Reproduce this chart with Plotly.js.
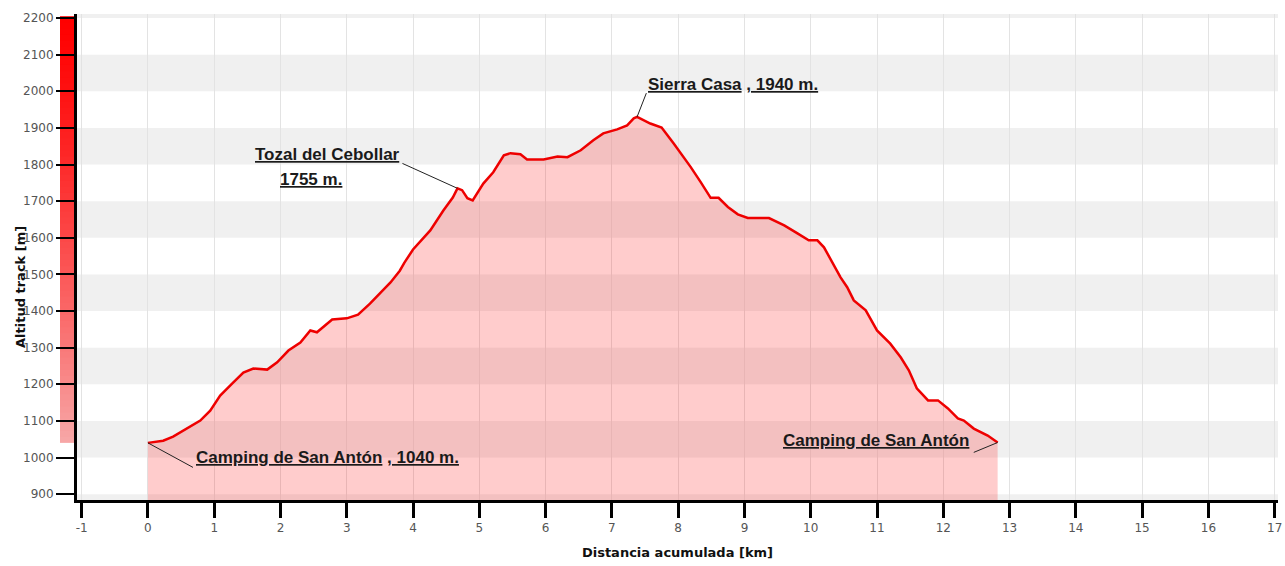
<!DOCTYPE html>
<html><head><meta charset="utf-8">
<script src="https://cdn.plot.ly/plotly-3.0.1.min.js"></script>
<style>html,body{margin:0;padding:0;background:#fff}#chart{width:1285px;height:566px}</style>
</head><body><div id="chart"></div>
<script>
// ---- data ----
const distanceKm = [0, 0.23, 0.38, 0.59, 0.79, 0.94, 1.09, 1.27, 1.44, 1.59, 1.80, 1.95, 2.12, 2.30, 2.45, 2.55, 2.78, 3.00, 3.17, 3.35, 3.50, 3.66, 3.80, 3.87, 4.00, 4.26, 4.46, 4.60, 4.67, 4.74, 4.82, 4.90, 5.06, 5.21, 5.37, 5.47, 5.62, 5.72, 5.97, 6.18, 6.33, 6.53, 6.72, 6.87, 7.08, 7.23, 7.33, 7.38, 7.58, 7.75, 7.93, 8.19, 8.34, 8.49, 8.61, 8.75, 8.90, 9.05, 9.37, 9.60, 9.80, 9.97, 10.10, 10.20, 10.45, 10.55, 10.65, 10.83, 11.00, 11.20, 11.36, 11.48, 11.60, 11.77, 11.92, 12.07, 12.22, 12.31, 12.46, 12.67, 12.82];
const altitudeM = [1040, 1046, 1057, 1079, 1101, 1128, 1169, 1202, 1232, 1243, 1240, 1260, 1292, 1314, 1347, 1342, 1377, 1380, 1390, 1420, 1448, 1478, 1510, 1532, 1568, 1620, 1675, 1710, 1735, 1730, 1708, 1702, 1748, 1779, 1825, 1831, 1828, 1814, 1814, 1822, 1820, 1839, 1866, 1885, 1896, 1907, 1926, 1930, 1912, 1901, 1858, 1793, 1752, 1709, 1709, 1684, 1664, 1654, 1654, 1634, 1612, 1593, 1593, 1574, 1492, 1465, 1429, 1402, 1347, 1311, 1273, 1238, 1189, 1156, 1156, 1134, 1107, 1101, 1079, 1060, 1041];
const xTickVals = [-1,0,1,2,3,4,5,6,7,8,9,10,11,12,13,14,15,16,17];
const yTickVals = [900,1000,1100,1200,1300,1400,1500,1600,1700,1800,1900,2000,2100,2200];
const xTitle = 'Distancia acumulada [km]';
const yTitle = 'Altitud track [m]';
// labels: text, label anchor (km, m), leader: point index and end (km, m)
const labelTexts = ['<u>Camping de San Antón</u> <u>, 1040 m.</u>', '<u>Tozal del Cebollar</u>', '<u>1755 m.</u>', '<u>Sierra Casa</u> <u>, 1940 m.</u>', '<u>Camping de San Antón</u>'];
const labelKm = [0.70, 3.84, 1.96, 7.52, 12.42];
const labelM = [1000, 1827, 1758, 2018, 1046];
const labelAnchor = ['left', 'right', 'left', 'left', 'right'];
const leaderPointIdx = [0, 28, null, 47, 80];
const leaderEndKm = [0.68, 3.84, null, 7.52, 12.46];
const leaderEndM = [973, 1803, null, 1995, 1014];

// ---- layout constants ----
const W = 1285, H = 566;
const M = {l: 77, r: 7, t: 14, b: 66};
const xRange = [-1.07, 17.05];
const yRange = [884, 2211];
const plotW = W - M.l - M.r;

const shapes = [];
// alternating horizontal bands
for (let v = Math.floor(yRange[0] / 200) * 200; v < yRange[1]; v += 200) {
  shapes.push({type: 'rect', xref: 'paper', yref: 'y', layer: 'below',
    x0: 0, x1: 1, y0: Math.max(v, yRange[0]), y1: Math.min(v + 100, yRange[1]),
    fillcolor: '#f0f0f0', line: {width: 0}});
}
// gradient bar left of axis (from minimum altitude to top)
const gMin = Math.min(...altitudeM), gMax = yTickVals[yTickVals.length - 1] + 5;
const N = 70;
for (let i = 0; i < N; i++) {
  const y0 = gMin + (gMax - gMin) * i / N, y1 = gMin + (gMax - gMin) * (i + 1) / N + 4;
  const t = 1 - (i + 0.5) / N; // 1 at bottom, 0 at top
  const e = Math.pow(t, 1.3);
  const r = Math.round(255 - 8 * e), g = Math.round(0 + 168 * e), b = Math.round(0 + 168 * e);
  shapes.push({type: 'rect', xref: 'paper', yref: 'y', layer: 'below',
    x0: -17 / plotW, x1: -2 / plotW, y0: y0, y1: Math.min(y1, gMax),
    fillcolor: `rgb(${r},${g},${b})`, line: {width: 0}});
}
// leader lines
for (let i = 0; i < labelTexts.length; i++) {
  if (leaderPointIdx[i] === null) continue;
  shapes.push({type: 'line', xref: 'x', yref: 'y', layer: 'above',
    x0: distanceKm[leaderPointIdx[i]], y0: altitudeM[leaderPointIdx[i]],
    x1: leaderEndKm[i], y1: leaderEndM[i], line: {color: '#222', width: 1}});
}

const annotations = labelTexts.map((t, i) => ({
  text: '<b>' + t + '</b>', x: labelKm[i], y: labelM[i], xref: 'x', yref: 'y',
  xanchor: labelAnchor[i], yanchor: 'middle', showarrow: false,
  font: {family: 'Liberation Sans, Arial, sans-serif', size: 17, color: '#1a1a1a'}
}));
annotations.push({
  text: '<b>' + yTitle + '</b>', textangle: -90, xref: 'paper', yref: 'paper',
  x: (20 - M.l) / plotW, y: (H - M.b - 287) / (H - M.t - M.b), showarrow: false,
  xanchor: 'center', yanchor: 'middle',
  font: {family: 'DejaVu Sans, sans-serif', size: 13, color: '#111'}
});

const trace = {
  x: distanceKm, y: altitudeM, type: 'scatter', mode: 'lines',
  line: {color: '#ee0000', width: 2.5}, fill: 'tozeroy', fillcolor: 'rgba(255,0,0,0.2)',
  hoverinfo: 'x+y'
};

const layout = {
  width: W, height: H, margin: M, showlegend: false,
  paper_bgcolor: '#ffffff', plot_bgcolor: '#ffffff',
  xaxis: {range: xRange, tickvals: xTickVals, ticktext: xTickVals.map(String),
    ticks: 'outside', ticklen: 15, tickwidth: 3, tickcolor: '#000',
    showline: true, linewidth: 3, linecolor: '#000', zeroline: false,
    showgrid: true, gridcolor: '#e3e3e3', gridwidth: 1,
    tickfont: {family: 'DejaVu Sans, sans-serif', size: 12, color: '#555'},
    title: {text: '<b>' + xTitle + '</b>', standoff: 14,
      font: {family: 'DejaVu Sans, sans-serif', size: 13, color: '#111'}}},
  yaxis: {range: yRange, tickvals: yTickVals, ticktext: yTickVals.map(String),
    ticks: 'outside', ticklen: 18, tickwidth: 2, tickcolor: '#000',
    showline: true, linewidth: 3, linecolor: '#000', zeroline: false, showgrid: false,
    tickfont: {family: 'DejaVu Sans, sans-serif', size: 12, color: '#555'}},
  shapes: shapes, annotations: annotations
};

Plotly.newPlot('chart', [trace], layout, {displayModeBar: false, staticPlot: true});
</script>
</body></html>
